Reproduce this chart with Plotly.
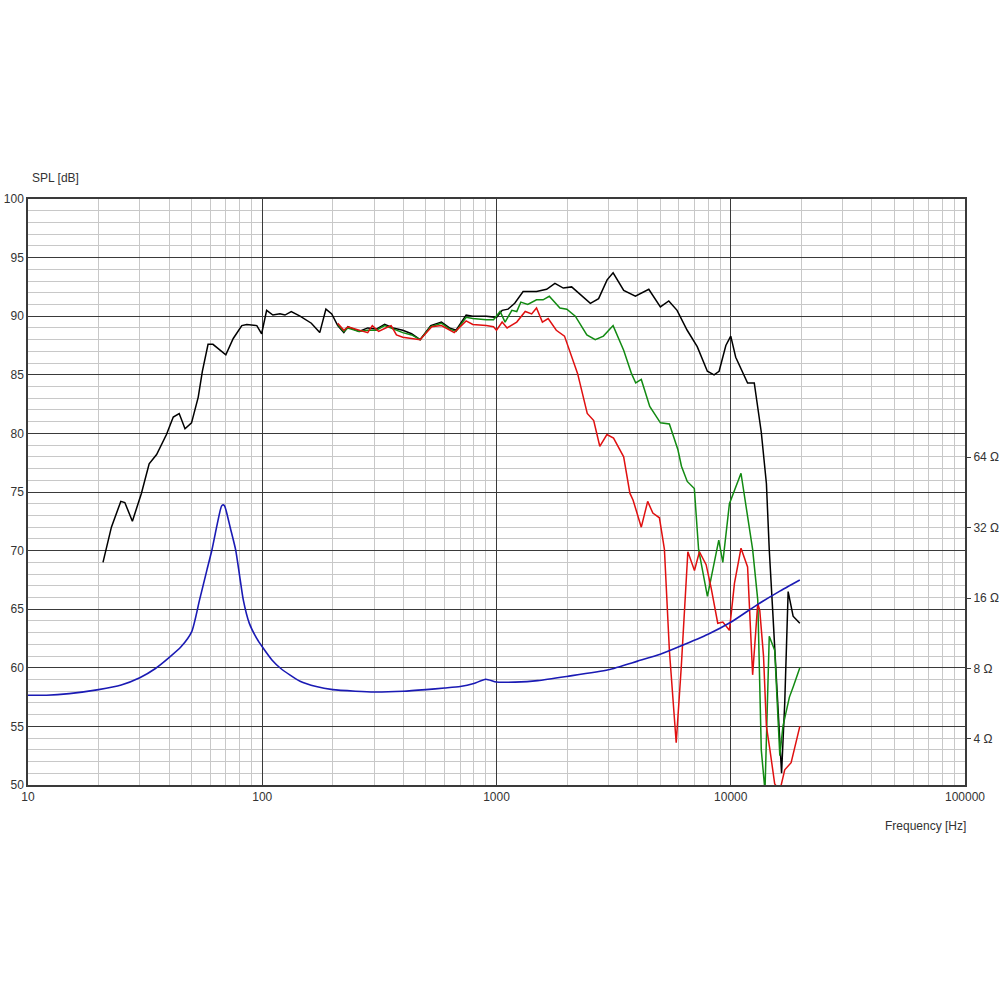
import plotly.graph_objects as go

# ---------------- data ----------------
black_f = [20.9, 22.7, 24.9, 25.9, 27.9, 30.5, 32.9, 35.4, 39.0, 41.7, 44.2, 46.8, 49.9, 53.3, 55.5,
           58.7, 61.6, 69.9, 75.2, 81.8, 85.9, 94.8, 99.4, 101, 104.4, 111, 119, 125, 133, 145, 162,
           176, 187, 198, 210, 223, 232, 259, 282, 307, 333, 362, 398, 434, 472, 524, 582, 630, 672,
           742, 792, 904, 1000, 1057, 1120, 1196, 1299, 1482, 1637, 1776, 1928, 2093, 2516, 2728,
           2966, 3146, 3492, 3917, 4468, 5007, 5438, 5900, 6516, 7193, 7946, 8487, 8918, 9530, 10000,
           10500, 11400, 11800, 12600, 13500, 14200, 14600, 15100, 15800, 16480, 17000, 17580, 18460, 19720]
black_spl = [69.0, 72.0, 74.2, 74.1, 72.5, 74.9, 77.4, 78.2, 79.9, 81.4, 81.7, 80.4, 80.9, 83.1, 85.3,
             87.6, 87.6, 86.7, 88.1, 89.2, 89.3, 89.2, 88.5, 89.1, 90.5, 90.1, 90.2, 90.1, 90.4, 90.0, 89.4,
             88.6, 90.6, 90.2, 89.2, 88.6, 89.1, 88.7, 89.0, 88.9, 89.3, 89.0, 88.8, 88.5, 88.0, 89.2, 89.5, 89.0, 88.8,
             90.1, 90.0, 90.0, 89.9, 90.5, 90.6, 91.1, 92.1, 92.1, 92.3, 92.8, 92.4, 92.5, 91.1, 91.5,
             93.1, 93.7, 92.2, 91.7, 92.3, 90.8, 91.3, 90.5, 88.8, 87.4, 85.3, 85.0, 85.3, 87.5, 88.3,
             86.5, 85.0, 84.3, 84.3, 80.1, 75.7, 70.1, 64.9, 58.0, 51.0, 57.0, 66.5, 64.4, 63.8]

green_f = [210, 223, 232, 259, 282, 307, 333, 362, 398, 434, 472, 524, 582, 630, 672, 742, 792, 904, 971,
           1036, 1088, 1163, 1220, 1270, 1360, 1482, 1580, 1680, 1865, 1996, 2170, 2430, 2640, 2860, 3146,
           3490, 3770, 3930, 4150, 4510, 5010, 5470, 5950, 6160, 6520, 6990, 7290, 7950, 8890, 9250, 9870,
           11060, 12400, 13040, 13500, 14000, 14600, 15400, 16200, 16700, 17800, 18500, 19720]
green_spl = [89.3, 88.7, 89.0, 88.7, 88.8, 88.8, 89.2, 88.9, 88.6, 88.4, 88.0, 89.1, 89.4, 88.9, 88.7, 89.9, 89.8, 89.7, 89.7,
             90.4, 89.5, 90.5, 90.4, 91.2, 91.0, 91.4, 91.4, 91.7, 90.7, 90.6, 90.0, 88.4, 88.0, 88.3, 89.2,
             87.1, 85.1, 84.3, 84.6, 82.3, 80.9, 80.8, 78.6, 77.2, 75.9, 75.3, 70.1, 66.1, 70.9, 69.0, 74.0,
             76.6, 70.1, 65.8, 53.0, 49.5, 62.7, 61.5, 52.5, 55.0, 57.5, 58.4, 60.0]

red_f = [210, 223, 232, 259, 282, 295, 314, 345, 355, 374, 398, 472, 529, 582, 660, 742, 792, 904, 971,
         1000, 1057, 1110, 1220, 1326, 1413, 1482, 1570, 1662, 1800, 1951, 2220, 2440, 2600, 2760, 2960,
         3160, 3490, 3710, 3830, 4150, 4420, 4650, 4960, 5210, 5470, 5850, 6150, 6560, 7000, 7350, 7850,
         8250, 8800, 9250, 9870, 10370, 11060, 11800, 12400, 13040, 13300, 13800, 14200, 14700, 15400,
         16200, 17000, 18100, 19720]
red_spl = [89.4, 88.8, 89.1, 88.8, 88.6, 89.2, 88.7, 89.1, 89.2, 88.4, 88.2, 88.0, 89.1, 89.2, 88.6, 89.6, 89.3, 89.2, 89.1,
           88.8, 89.5, 89.0, 89.5, 90.4, 90.2, 90.7, 89.5, 89.8, 88.8, 88.3, 85.1, 81.7, 81.1, 78.9, 79.9,
           79.6, 78.0, 74.9, 74.3, 72.0, 74.2, 73.2, 72.8, 70.1, 61.5, 53.6, 60.1, 69.9, 68.3, 69.9, 68.8,
           66.8, 63.8, 63.9, 63.2, 67.2, 70.2, 68.6, 59.4, 65.5, 64.9, 61.0, 55.0, 53.0, 50.1,
           49.5, 51.3, 51.9, 55.0]

imp_f = [10, 12, 15, 20, 25, 30, 35, 40, 45, 50, 54, 58, 61, 64, 66, 67, 68, 69, 70, 73, 77, 80, 83, 88, 95,
         100, 110, 120, 145, 170, 200, 250, 300, 400, 500, 600, 700, 800, 900, 1000, 1200, 1500, 2000,
         3000, 4000, 5000, 6000, 8000, 10000, 13000, 16000, 19720]
imp_ohm = [6.15, 6.15, 6.25, 6.5, 6.8, 7.3, 8.0, 8.9, 9.9, 11.5, 15.7, 21.0, 25.7, 32.5, 37.5, 39.5, 40.0, 39.6, 38.0,
           32.0, 25.7, 20.0, 15.7, 12.5, 10.7, 9.9, 8.7, 8.0, 7.06, 6.7, 6.5, 6.4, 6.35, 6.4, 6.5, 6.6, 6.7, 6.9,
           7.2, 7.0, 7.0, 7.1, 7.4, 7.9, 8.6, 9.2, 9.9, 11.2, 12.6, 15.0, 17.0, 19.1]

x_major = [10, 100, 1000, 10000, 100000]
x_major_text = ["10", "100", "1000", "10000", "100000"]
x_minor = [m * d for d in [10, 100, 1000, 10000] for m in range(2, 10)]
imp_ticks = [4, 8, 16, 32, 64]
imp_tick_text = ["4 Ω", "8 Ω", "16 Ω", "32 Ω", "64 Ω"]

# ---------------- figure ----------------
FONT = "Arial, Liberation Sans, sans-serif"
DARK = "#3a3a3a"
LIGHT = "#c8c8c8"

fig = go.Figure()
fig.add_trace(go.Scatter(x=imp_f, y=imp_ohm, mode="lines", yaxis="y2", line_shape="spline",
                         line=dict(color="#1a1ab4", width=1.6, smoothing=0.6), showlegend=False))
fig.add_trace(go.Scatter(x=black_f, y=black_spl, mode="lines",
                         line=dict(color="#000000", width=1.5), showlegend=False))
fig.add_trace(go.Scatter(x=green_f, y=green_spl, mode="lines",
                         line=dict(color="#128a12", width=1.5), showlegend=False))
fig.add_trace(go.Scatter(x=red_f, y=red_spl, mode="lines",
                         line=dict(color="#e01010", width=1.5), showlegend=False))

fig.update_layout(
    width=1000, height=1000,
    margin=dict(l=28, r=35, t=199, b=215),
    paper_bgcolor="white", plot_bgcolor="white",
    font=dict(family=FONT, size=12, color="#333333"),
    xaxis=dict(type="log", range=[1, 5], tickmode="array", tickvals=x_major, ticktext=x_major_text,
               showgrid=True, gridcolor=DARK, gridwidth=1.2, ticks="", automargin=False,
               showline=True, linecolor=DARK, linewidth=1.5, mirror=True, zeroline=False,
               minor=dict(tickmode="array", tickvals=x_minor, showgrid=True, gridcolor=LIGHT, gridwidth=1, ticks=""),
               tickfont=dict(size=12, color="#333333")),
    yaxis=dict(range=[50, 100], tickmode="linear", tick0=50, dtick=5, automargin=False,
               showgrid=True, gridcolor=DARK, gridwidth=1.2, ticks="",
               showline=True, linecolor=DARK, linewidth=1.5, mirror=True, zeroline=False,
               minor=dict(dtick=1, showgrid=True, gridcolor=LIGHT, gridwidth=1, ticks=""),
               tickfont=dict(size=12, color="#333333")),
    yaxis2=dict(type="log", overlaying="y", side="right", range=[0.4056, 2.9079], automargin=False,
                tickmode="array", tickvals=imp_ticks, ticktext=imp_tick_text,
                showgrid=False, zeroline=False, showline=False,
                ticks="outside", ticklen=5, tickcolor=DARK,
                tickfont=dict(size=12, color="#333333")),
    annotations=[
        dict(text="SPL [dB]", xref="paper", yref="paper", x=0, y=1, xanchor="left", yanchor="bottom",
             xshift=2, yshift=12, showarrow=False, font=dict(size=12, color="#333333")),
        dict(text="Frequency [Hz]", xref="paper", yref="paper", x=1, y=0, xanchor="right", yanchor="top",
             xshift=3, yshift=-32, showarrow=False, font=dict(size=12, color="#333333")),
    ],
)

fig.write_html("out.html", config={"displayModeBar": False},
               post_script="document.body.style.margin='0';document.body.style.overflow='hidden';")
